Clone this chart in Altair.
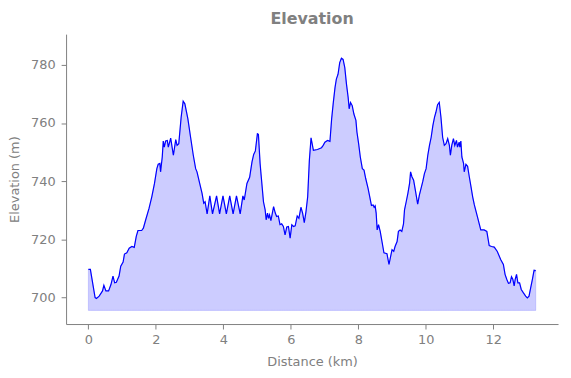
import altair as alt
import pandas as pd

distance_km = [
    0.00, 0.06, 0.20, 0.24, 0.32, 0.42, 0.46, 0.52, 0.60, 0.67, 0.73, 0.78, 0.83, 0.91, 0.96,
    1.03, 1.07, 1.14, 1.21, 1.29, 1.36, 1.42, 1.47, 1.58, 1.63, 1.70, 1.80, 1.88, 1.96, 2.03,
    2.07, 2.12, 2.14, 2.19, 2.22, 2.25, 2.29, 2.34, 2.37, 2.44, 2.52, 2.59, 2.63, 2.68, 2.75,
    2.81, 2.86, 2.95, 3.03, 3.11, 3.18, 3.22, 3.30, 3.37, 3.42, 3.46, 3.52, 3.60, 3.68, 3.80,
    3.89, 3.99, 4.09, 4.19, 4.29, 4.39, 4.50, 4.58, 4.62, 4.70, 4.78, 4.85, 4.90, 4.95, 5.01,
    5.04, 5.09, 5.12, 5.19, 5.24, 5.27, 5.31, 5.34, 5.37, 5.41, 5.49, 5.54, 5.58, 5.63, 5.68,
    5.73, 5.78, 5.83, 5.88, 5.93, 5.98, 6.03, 6.08, 6.13, 6.19, 6.24, 6.30, 6.35, 6.40, 6.45,
    6.50, 6.55, 6.60, 6.67, 6.79, 6.91, 6.96, 7.01, 7.09, 7.16, 7.21, 7.26, 7.31, 7.35, 7.40,
    7.45, 7.50, 7.55, 7.60, 7.65, 7.70, 7.73, 7.77, 7.82, 7.87, 7.93, 7.96, 8.01, 8.06, 8.12,
    8.17, 8.22, 8.29, 8.34, 8.39, 8.44, 8.47, 8.50, 8.53, 8.56, 8.60, 8.65, 8.71, 8.76, 8.85,
    8.91, 8.95, 9.00, 9.05, 9.09, 9.15, 9.19, 9.24, 9.29, 9.34, 9.37, 9.42, 9.47, 9.52, 9.55,
    9.59, 9.64, 9.70, 9.76, 9.81, 9.86, 9.91, 9.96, 10.01, 10.06, 10.11, 10.16, 10.21, 10.26, 10.30,
    10.35, 10.40, 10.45, 10.50, 10.55, 10.60, 10.65, 10.70, 10.73, 10.77, 10.82, 10.86, 10.91, 10.94, 10.99,
    11.01, 11.04, 11.07, 11.12, 11.14, 11.19, 11.24, 11.29, 11.34, 11.39, 11.44, 11.53, 11.63, 11.73, 11.81,
    11.88, 11.95, 12.03, 12.12, 12.22, 12.30, 12.35, 12.40, 12.45, 12.50, 12.54, 12.58, 12.62, 12.65, 12.69,
    12.73, 12.78, 12.83, 12.89, 12.96, 13.01, 13.06, 13.11, 13.16, 13.21, 13.26,
]

elevation_m = [
    709.6, 709.6, 699.9, 699.6, 700.4, 702.2, 704.1, 702.2, 702.2, 704.4, 707.3, 705.0, 705.2, 707.3, 710.7,
    712.1, 714.9, 715.3, 716.9, 717.5, 717.2, 721.0, 723.0, 723.0, 723.8, 726.7, 730.7, 734.6, 739.2, 744.3,
    745.8, 746.1, 743.2, 748.3, 753.8, 751.7, 753.8, 754.0, 751.7, 754.8, 748.9, 754.3, 752.3, 752.9, 762.0,
    767.5, 766.6, 761.4, 755.1, 748.9, 744.3, 743.2, 739.2, 735.8, 732.4, 732.9, 728.7, 734.9, 728.7, 734.9,
    728.7, 734.9, 728.7, 734.9, 728.7, 734.9, 728.7, 734.9, 733.5, 739.2, 741.3, 746.6, 749.2, 750.4, 756.3,
    756.1, 746.1, 742.1, 732.9, 730.1, 726.7, 729.0, 727.2, 728.4, 726.4, 731.2, 729.0, 727.8, 728.0, 725.0,
    725.3, 724.4, 721.5, 724.2, 724.4, 720.4, 725.0, 724.4, 724.6, 728.0, 727.2, 731.0, 729.0, 725.7, 729.5,
    734.6, 747.2, 754.9, 750.6, 750.9, 751.5, 752.3, 753.4, 754.0, 753.7, 761.4, 767.1, 772.2, 775.1, 776.8,
    780.8, 782.3, 781.9, 779.1, 773.4, 768.8, 764.9, 767.1, 766.0, 763.1, 760.9, 756.9, 752.9, 748.3, 744.3,
    743.8, 740.9, 737.5, 734.6, 731.6, 731.8, 731.0, 731.5, 729.0, 723.2, 725.0, 722.7, 718.7, 715.3, 715.0,
    711.3, 713.6, 716.4, 715.8, 717.5, 719.2, 722.7, 723.2, 722.7, 725.3, 730.1, 732.9, 735.8, 739.2, 743.2,
    741.5, 740.3, 736.3, 732.1, 735.2, 737.5, 739.8, 742.6, 744.3, 748.9, 752.3, 755.1, 759.1, 762.0, 763.7,
    766.3, 767.1, 762.0, 755.1, 752.3, 752.9, 754.6, 752.3, 748.9, 752.3, 754.6, 752.3, 754.0, 751.7, 753.4,
    751.7, 753.8, 748.3, 746.1, 743.2, 745.8, 745.1, 741.5, 738.1, 734.6, 731.8, 727.8, 723.2, 723.2, 722.7,
    717.8, 717.5, 717.3, 715.8, 713.0, 711.3, 707.9, 706.2, 704.8, 705.0, 707.1, 706.2, 703.9, 706.2, 707.9,
    705.0, 705.0, 702.7, 701.6, 700.4, 699.8, 700.4, 703.3, 706.2, 709.3, 709.2,
]

fill_base_m = 695.5

df = pd.DataFrame({"d": distance_km, "e": elevation_m})
df["base"] = fill_base_m

FONT = "DejaVu Sans"
GRAY = "#808080"

x = alt.X(
    "d:Q",
    scale=alt.Scale(domain=[-0.66, 13.92], nice=False, zero=False),
    axis=alt.Axis(
        title="Distance (km)", values=[0, 2, 4, 6, 8, 10, 12], format="d",
        grid=False, domainColor=GRAY, tickColor=GRAY, labelColor=GRAY, titleColor=GRAY,
        labelFont=FONT, titleFont=FONT, labelFontSize=13, titleFontSize=13,
        titleFontWeight="normal", tickSize=5, labelPadding=5, titlePadding=9,
    ),
)
y_axis = alt.Axis(
    title="Elevation (m)", values=[700, 720, 740, 760, 780], format="d",
    grid=False, domainColor=GRAY, tickColor=GRAY, labelColor=GRAY, titleColor=GRAY,
    labelFont=FONT, titleFont=FONT, labelFontSize=13, titleFontSize=13,
    titleFontWeight="normal", tickSize=5, labelPadding=6, titlePadding=9,
)
yscale = alt.Scale(domain=[690.8, 790.6], nice=False, zero=False)

area = alt.Chart(df).mark_area(
    color="#0000ff", fillOpacity=0.2, stroke="#0000ff", strokeOpacity=0.15, strokeWidth=1
).encode(x=x, y=alt.Y("e:Q", scale=yscale, axis=y_axis), y2="base:Q")

line = alt.Chart(df).mark_line(color="#0000ff", strokeWidth=1.2).encode(
    x=x, y=alt.Y("e:Q", scale=yscale, axis=y_axis)
)

chart = (
    alt.layer(area, line)
    .properties(
        width=495.5,
        height=292,
        title=alt.TitleParams(
            "Elevation", font=FONT, fontSize=16, fontWeight="bold", color=GRAY,
            anchor="middle", offset=7,
        ),
        autosize=alt.AutoSizeParams(type="none"),
        padding={"left": 58.5, "top": 25, "right": 5, "bottom": 50},
    )
    .configure_view(stroke=None)
)

chart.save("out.html", embed_options={"renderer": "svg", "actions": False})
